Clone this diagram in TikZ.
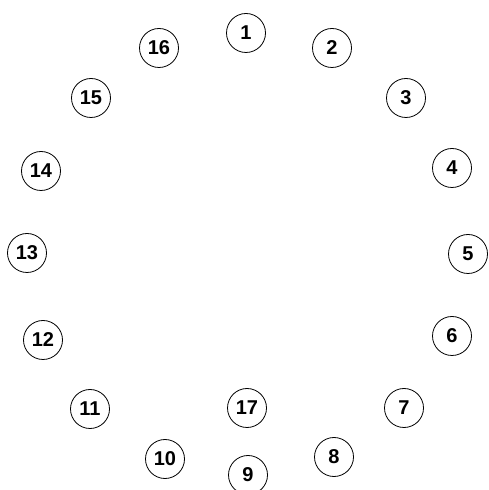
\documentclass[tikz,border=0pt]{standalone}
\usepackage{fontspec}
\setmainfont{Liberation Sans}

\begin{document}
\begin{tikzpicture}[x=1pt,y=1pt]
  \tikzset{
    seat/.style={circle,draw=black,line width=0.8pt,minimum size=39pt,
      inner sep=0pt,font=\fontsize{20}{20}\selectfont\bfseries}
  }
  \useasboundingbox (0,0) rectangle (489,490);

  \foreach \n/\px/\py in {1/246/457, 2/332/442, 3/406/392, 4/452/322,
      5/468/236, 6/452/154, 7/404/82, 8/334/33, 9/248/15, 10/165/31,
      11/90/81, 12/43/150, 13/27/237, 14/41/319, 15/91/392, 16/159/442,
      17/247/82}
    \node[seat] (s\n) at (\px,\py) {\n};
\end{tikzpicture}
\end{document}
